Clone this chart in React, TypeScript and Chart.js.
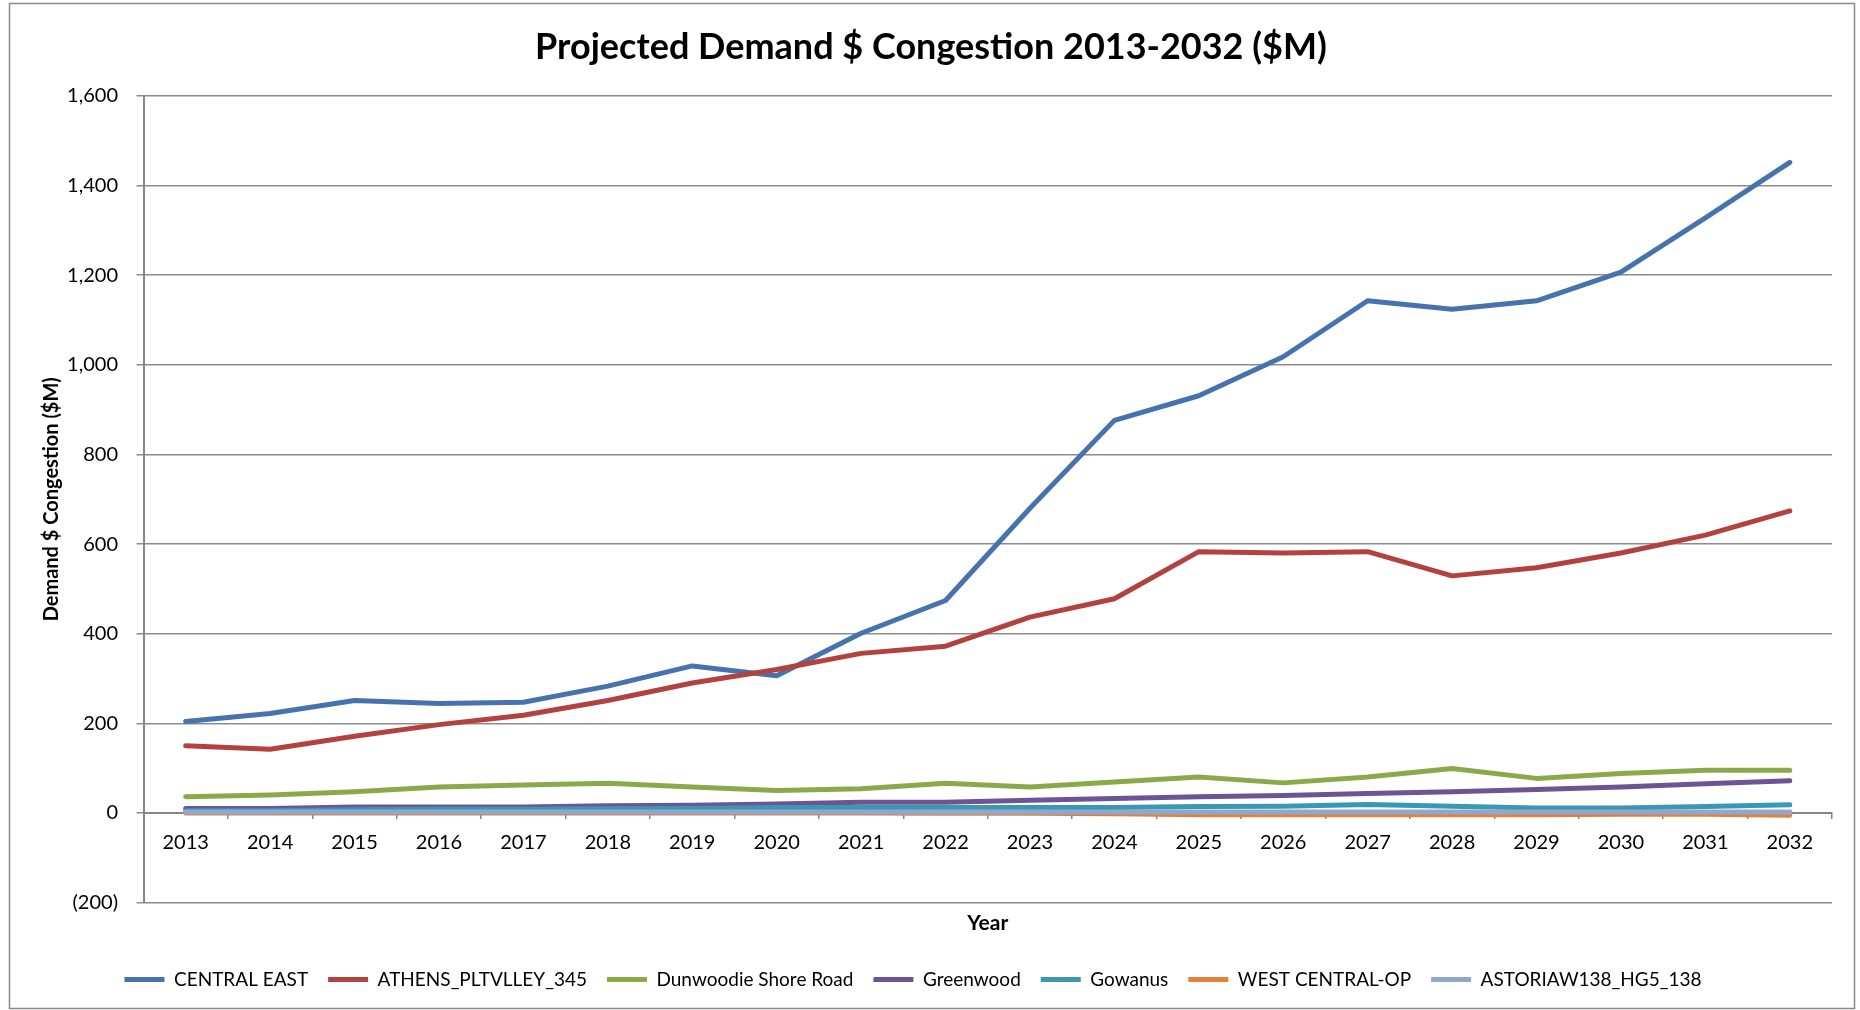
import React, { useEffect, useRef } from 'react';
import { Chart, registerables } from 'chart.js';

Chart.register(...registerables);

const years = ['2013', '2014', '2015', '2016', '2017', '2018', '2019', '2020', '2021', '2022', '2023', '2024', '2025', '2026', '2027', '2028', '2029', '2030', '2031', '2032'];

const centralEast = [204, 222, 251, 244, 247, 283, 328, 306, 401, 474, 680, 876, 931, 1018, 1143, 1124, 1143, 1207, 1328, 1452];
const athens = [150, 142, 171, 197, 218, 251, 290, 320, 356, 372, 437, 478, 583, 580, 583, 529, 547, 580, 620, 674];
const dunwoodie = [36, 40, 47, 58, 62, 66, 58, 50, 54, 66, 58, 69, 80, 67, 80, 99, 77, 88, 95, 95];
const greenwood = [10, 10, 13, 13, 13, 16, 17, 20, 24, 24, 28, 32, 36, 39, 43, 47, 52, 58, 65, 72];
const gowanus = [5, 5, 7, 8, 8, 9, 10, 12, 12, 12, 12, 12, 14, 15, 19, 15, 11, 11, 14, 18];
const westCentral = [0, 0, 0, 0, 0, 0, 0, 0, 0, -1, -1, -2, -4, -4, -4, -4, -4, -3, -3, -5];
const astoria = [2, 2, 2, 2, 2, 2, 2, 2, 2, 2, 2, 2, 2, 2, 2, 2, 2, 2, 2, 2];

const seriesNames = ['CENTRAL EAST', 'ATHENS_PLTVLLEY_345', 'Dunwoodie Shore Road', 'Greenwood', 'Gowanus', 'WEST CENTRAL-OP', 'ASTORIAW138_HG5_138'];
const seriesColors = ['#4673AE', '#B3423F', '#8AAA4A', '#6E5494', '#3C98B0', '#E5803B', '#8FA8CF'];

const titleText = 'Projected Demand $ Congestion 2013-2032 ($M)';
const yTitle = 'Demand $ Congestion ($M)';
const xTitle = 'Year';

const FONT = 'Lato';

const fmt = (v: number) => {
  const s = Math.abs(v).toLocaleString('en-US');
  return v < 0 ? `(${s})` : s;
};

const framePlugin = {
  id: 'frame',
  beforeDraw(chart: any) {
    const { ctx, width, height } = chart;
    ctx.save();
    ctx.fillStyle = '#ffffff';
    ctx.fillRect(0, 0, width, height);
    ctx.strokeStyle = '#8a8a8a';
    ctx.lineWidth = 1.5;
    ctx.strokeRect(9.5, 3.5, 1845, 1005);
    ctx.restore();
  },
  afterDraw(chart: any) {
    const { ctx } = chart;
    ctx.save();
    ctx.fillStyle = '#000000';
    ctx.font = `bold 36px ${FONT}`;
    ctx.textAlign = 'center';
    ctx.textBaseline = 'middle';
    ctx.fillText(titleText, 931, 47);
    ctx.restore();
  },
};

export default function App() {
  const ref = useRef<HTMLCanvasElement>(null);
  useEffect(() => {
    document.body.style.margin = '0';
    const all = [centralEast, athens, dunwoodie, greenwood, gowanus, westCentral, astoria];
    const chart = new Chart(ref.current as HTMLCanvasElement, {
      type: 'line',
      data: {
        labels: years,
        datasets: all.map((d, i) => ({
          label: seriesNames[i],
          data: d,
          borderColor: seriesColors[i],
          backgroundColor: seriesColors[i],
          borderWidth: 5,
          borderCapStyle: 'round',
          borderJoinStyle: 'round',
          pointRadius: 0,
          tension: 0,
          order: all.length - 1 - i,
        })),
      },
      options: {
        responsive: false,
        animation: false,
        layout: { padding: { left: -6, right: 28, top: 96, bottom: 11 } },
        plugins: {
          title: { display: false },
          tooltip: { enabled: false },
          legend: {
            position: 'bottom',
            labels: {
              usePointStyle: true,
              pointStyle: 'line',
              pointStyleWidth: 40,
              padding: 20,
              color: '#000000',
              font: { family: FONT, size: 19 },
              sort: (a: any, b: any) => a.datasetIndex - b.datasetIndex,
            },
          },
        },
        scales: {
          x: {
            type: 'category',
            position: { y: 0 },
            offset: true,
            grid: { display: true, drawOnChartArea: false, drawTicks: true, tickLength: 5, offset: true, color: '#868686', lineWidth: 1.5 },
            border: { display: true, color: '#868686', width: 2 },
            ticks: { color: '#000000', font: { family: FONT, size: 20 }, padding: 13, maxRotation: 0, autoSkip: false },
          },
          x2: {
            type: 'category',
            position: 'bottom',
            offset: true,
            grid: { display: false, drawTicks: false },
            border: { display: false },
            ticks: { display: false },
            title: { display: true, text: xTitle, color: '#000000', font: { family: FONT, size: 21, weight: 'bold' }, padding: { top: 0, bottom: 14 } },
            afterFit: (s: any) => { s.height = 47.5; },
          },
          y: {
            min: -200,
            max: 1600,
            ticks: { stepSize: 200, color: '#000000', font: { family: FONT, size: 20 }, padding: 18.5, callback: (v: any) => fmt(Number(v)) },
            grid: { color: '#8c8c8c', lineWidth: 1.5, tickLength: 7, drawTicks: true },
            border: { display: true, color: '#868686', width: 2 },
            title: { display: true, text: yTitle, color: '#000000', font: { family: FONT, size: 20, weight: 'bold' }, padding: { top: 46, bottom: 0 } },
            afterFit: (s: any) => { s.width = 149.5; },
          },
        },
      },
      plugins: [framePlugin],
    } as any);
    return () => chart.destroy();
  }, []);
  return (
    <div style={{ width: 1860, height: 1010 }}>
      <canvas ref={ref} width={1860} height={1010} style={{ display: 'block' }} />
    </div>
  );
}
